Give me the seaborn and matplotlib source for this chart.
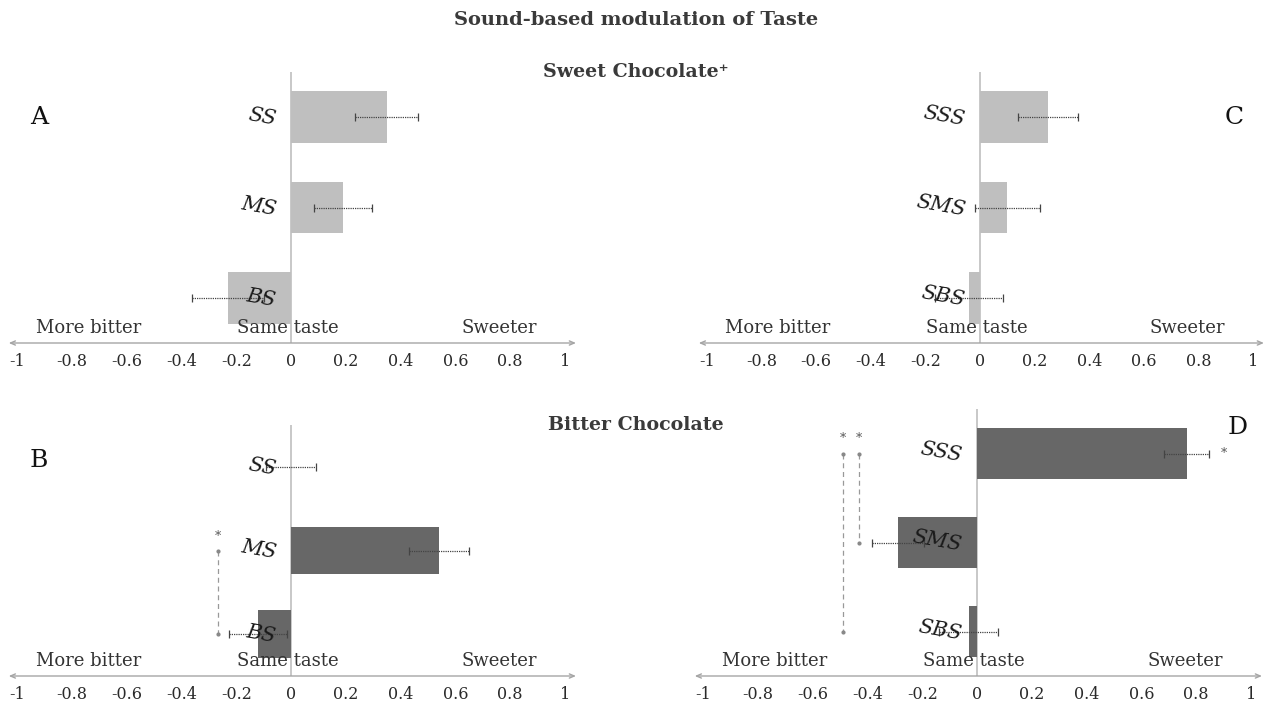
import numpy as np
import pandas as pd
import matplotlib
matplotlib.use("Agg")
import matplotlib.pyplot as plt
import seaborn as sns

# values (mean rating, error half-width)
sweet_simple = ["SS", "MS", "BS"]
sweet_simple_mean = [0.35, 0.19, -0.23]
sweet_simple_err = [0.115, 0.105, 0.13]

sweet_complex = ["SSS", "SMS", "SBS"]
sweet_complex_mean = [0.25, 0.10, -0.04]
sweet_complex_err = [0.11, 0.12, 0.125]

bitter_simple = ["SS", "MS", "BS"]
bitter_simple_mean = [0.0, 0.54, -0.12]
bitter_simple_err = [0.09, 0.11, 0.105]

bitter_complex = ["SSS", "SMS", "SBS"]
bitter_complex_mean = [0.765, -0.29, -0.03]
bitter_complex_err = [0.083, 0.095, 0.108]

tick_values = [-1, -0.8, -0.6, -0.4, -0.2, 0, 0.2, 0.4, 0.6, 0.8, 1]
tick_labels = ["-1", "-0.8", "-0.6", "-0.4", "-0.2", "0", "0.2", "0.4", "0.6", "0.8", "1"]

LIGHT = "#bfbfbf"
DARK = "#676767"
TXT = "#333333"

sns.set_style("white")
plt.rcParams["font.family"] = ["DejaVu Serif"]

W, H = 1264, 704
fig = plt.figure(figsize=(W / 100, H / 100), dpi=100)


def px_axes(zero_x, unit, top, bottom):
    # axes rect from pixel positions: x range -1.05..1.05
    left = zero_x - 1.05 * unit
    width = 2.1 * unit
    return fig.add_axes([left / W, 1 - bottom / H, width / W, (bottom - top) / H])


def panel(ax, cats, means, errs, color, letter, letter_xy):
    df = pd.DataFrame({"sound": cats, "value": means})
    sns.barplot(data=df, x="value", y="sound", order=cats, color=color,
                saturation=1, width=0.57, errorbar=None, orient="h",
                linewidth=0, ax=ax)
    eb = ax.errorbar(means, np.arange(len(cats)), xerr=errs, fmt="none",
                     ecolor="#444444", elinewidth=0.9, capsize=3, capthick=0.9)
    eb[2][0].set_linestyle((0, (1, 0.8)))
    ax.axvline(0, color="#c4c4c4", lw=1.3, zorder=0)
    ax.set_xlim(-1.05, 1.05)
    ax.set_ylim(2.5, -0.5)
    for s in ax.spines.values():
        s.set_visible(False)
    ax.set_yticks([])
    ax.set_xlabel("")
    ax.set_ylabel("")
    ax.set_xticks(tick_values, tick_labels)
    ax.tick_params(axis="x", length=0, pad=7, labelsize=11.5, labelcolor="#2a2a2a")
    ax.annotate("", xy=(1.04, 2.5), xytext=(-1.03, 2.5),
                arrowprops=dict(arrowstyle="<->,head_length=0.35,head_width=0.15",
                                color="#a5a5a5", lw=1, shrinkA=0, shrinkB=0),
                annotation_clip=False)
    for i, c in enumerate(cats):
        ax.text(-0.055, i + 0.03, c, ha="right", va="center", rotation=-10,
                rotation_mode="anchor", style="italic", fontsize=15, color="#1a1a1a")
    ax.text(-0.74, 2.43, "More bitter", ha="center", va="bottom", fontsize=13, color=TXT)
    ax.text(-0.01, 2.43, "Same taste", ha="center", va="bottom", fontsize=13, color=TXT)
    ax.text(0.76, 2.43, "Sweeter", ha="center", va="bottom", fontsize=13, color=TXT)
    ax.text(letter_xy[0], letter_xy[1], letter, ha="center", va="center",
            fontsize=18, color="#111111")


def bracket(ax, x, y0, y1):
    ax.plot([x, x], [y0, y1], color="#999999", lw=0.9, ls=(0, (4, 3)))
    ax.plot([x, x], [y0, y1], "o", color="#888888", ms=2)
    ax.text(x, y0 - 0.17, "*", ha="center", va="center", fontsize=9, color="#555555")


ax_a = px_axes(291, 274, 72, 343)
panel(ax_a, sweet_simple, sweet_simple_mean, sweet_simple_err, LIGHT, "A", (-0.92, 0.0))

ax_c = px_axes(980, 273, 72, 343)
panel(ax_c, sweet_complex, sweet_complex_mean, sweet_complex_err, LIGHT, "C", (0.93, 0.0))

ax_b = px_axes(291, 274, 425, 676)
panel(ax_b, bitter_simple, bitter_simple_mean, bitter_simple_err, DARK, "B", (-0.92, -0.08))
bracket(ax_b, -0.265, 1, 2)

ax_d = px_axes(977, 274, 409, 676)
panel(ax_d, bitter_complex, bitter_complex_mean, bitter_complex_err, DARK, "D", (0.95, -0.29))
bracket(ax_d, -0.49, 0, 2)
bracket(ax_d, -0.43, 0, 1)
ax_d.text(0.9, 0.0, "*", ha="center", va="center", fontsize=9, color="#555555")

fig.text(636 / W, 1 - 20 / H, "Sound-based modulation of Taste", ha="center", va="center",
         fontsize=14, fontweight="bold", color="#3a3a3a")
fig.text(636 / W, 1 - 72 / H, "Sweet Chocolate\u207a", ha="center", va="center",
         fontsize=13.7, fontweight="bold", color="#3a3a3a")
fig.text(636 / W, 1 - 425 / H, "Bitter Chocolate", ha="center", va="center",
         fontsize=13.7, fontweight="bold", color="#3a3a3a")

fig.savefig("out.png", dpi=100)
